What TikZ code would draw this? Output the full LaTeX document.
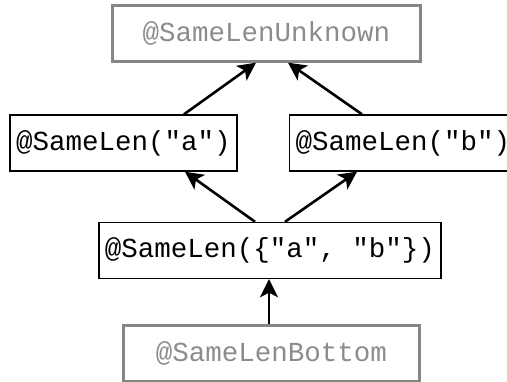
\documentclass[tikz,border=0pt]{standalone}
\usepackage{fontspec}
\setmonofont{Liberation Mono}
\usetikzlibrary{arrows.meta}

\tikzset{
    lattice/.style={draw, rectangle, inner sep=0pt, minimum height=56pt,
        font=\fontsize{27.5}{33}\selectfont\ttfamily},
    qual/.style={lattice, line width=1.4pt},
    topbot/.style={lattice, draw=gray!95, text=gray!90, line width=2.4pt},
    sub/.style={-{Stealth[length=18pt, width=18pt, inset=4.5pt]}, line width=2.6pt}
}

\begin{document}
\begin{tikzpicture}[x=1pt, y=1pt]
    \useasboundingbox (0,0) rectangle (507,-381);

    \node[topbot, minimum width=308pt] (Unknown) at (266.5, -33.5) {@SameLenUnknown};

    \node[qual, minimum width=227pt] (LenA) at (123.5, -143) {@SameLen("a")};
    \node[qual, minimum width=227pt] (LenB) at (403, -143) {@SameLen("b")};

    \node[qual, minimum width=342pt] (LenAB) at (270, -250.5) {@SameLen(\{"a", "b"\})};

    \node[topbot, minimum width=296pt] (Bottom) at (271.5, -353.5) {@SameLenBottom};

    % subtype edges
    \draw[sub] (LenA.north -| 184,0) -- (Unknown.south -| 256,0);
    \draw[sub] (LenB.north -| 362,0) -- (Unknown.south -| 288,0);
    \draw[sub] (LenAB.north -| 255,0) -- (LenA.south -| 185,0);
    \draw[sub] (LenAB.north -| 285,0) -- (LenB.south -| 357,0);
    \draw[sub] (Bottom.north -| 269,0) -- (LenAB.south -| 269,0);
\end{tikzpicture}
\end{document}
